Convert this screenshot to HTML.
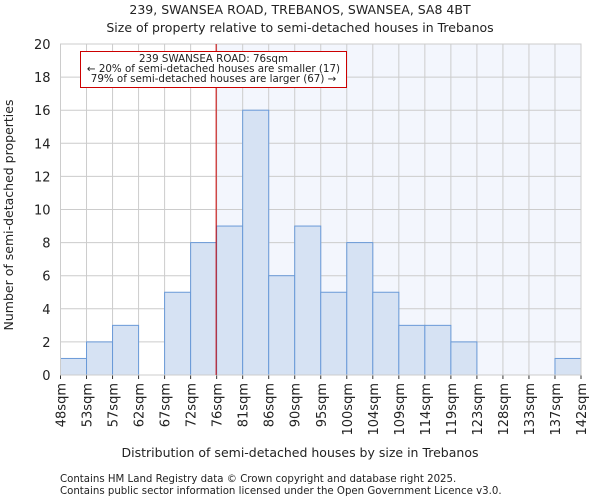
<!DOCTYPE html>
<html><head><meta charset="utf-8"><style>
body{margin:0;background:#fff;font-family:"DejaVu Sans","Liberation Sans",sans-serif;}
svg text{font-family:"DejaVu Sans","Liberation Sans",sans-serif;fill:#222;}
</style></head><body>
<svg id="c" width="600" height="500">
<text x="300" y="14" font-size="12.5" text-anchor="middle">239, SWANSEA ROAD, TREBANOS, SWANSEA, SA8 4BT</text>
<text x="300" y="32" font-size="12.5" text-anchor="middle">Size of property relative to semi-detached houses in Trebanos</text>
<g id="plot"></g>
<text x="300" y="457" font-size="12.5" text-anchor="middle">Distribution of semi-detached houses by size in Trebanos</text>
<text transform="translate(13,215) rotate(-90)" font-size="12.5" text-anchor="middle">Number of semi-detached properties</text>
<text x="60" y="482" font-size="10.2" fill="#444">Contains HM Land Registry data © Crown copyright and database right 2025.</text>
<text x="60" y="494" font-size="10.2" fill="#444">Contains public sector information licensed under the Open Government Licence v3.0.</text>
</svg>
<script>
const categories=["48sqm","53sqm","57sqm","62sqm","67sqm","72sqm","76sqm","81sqm","86sqm","90sqm","95sqm","100sqm","104sqm","109sqm","114sqm","119sqm","123sqm","128sqm","133sqm","137sqm","142sqm"];
const counts=[1,2,3,0,5,8,9,16,6,9,5,8,5,3,3,2,0,0,0,1];
const yTicks=[0,2,4,6,8,10,12,14,16,18,20];
const markerIndex=6;
const ns="http://www.w3.org/2000/svg";
const g=document.getElementById('plot');
const L=60.5,R=581,T=44,B=375,yMax=20;
const bw=(R-L)/counts.length;
const x=i=>L+i*bw;
const y=v=>B-(v/yMax)*(B-T);
function mk(t,a){const e=document.createElementNS(ns,t);for(const k in a)e.setAttribute(k,a[k]);g.appendChild(e);return e;}
let e;
e=mk('rect',{x:x(markerIndex),y:T,width:R-x(markerIndex),height:B-T,fill:'#f3f6fd'});


yTicks.forEach(v=>{
 e=mk('line',{x1:L,x2:R,y1:y(v),y2:y(v),stroke:'#ccc','stroke-width':1});
 
 
 e=mk('text',{x:L-10,y:y(v)+5,'font-size':13,'text-anchor':'end'});e.textContent=v;
 
 
});
categories.forEach((c,i)=>{
 e=mk('line',{x1:x(i),x2:x(i),y1:T,y2:B,stroke:'#ccc','stroke-width':1});
 
 
 e=mk('line',{x1:x(i),x2:x(i),y1:B,y2:B+4,stroke:'#333'});
 
 
 e=mk('text',{transform:`translate(${x(i)+5},${B+8}) rotate(-90)`,'font-size':13,'text-anchor':'end'});e.textContent=c;
 
 
});
counts.forEach((v,i)=>{
 if(v<=0)return;
 e=mk('rect',{x:x(i),y:y(v),width:bw,height:B-y(v),fill:'#d6e2f3',stroke:'#6a9ad8','stroke-width':1});
 
 
});
e=mk('rect',{x:L,y:T,width:R-L,height:B-T,fill:'none',stroke:'#ccc'});


e=mk('line',{x1:x(markerIndex)-0.5,x2:x(markerIndex)-0.5,y1:T,y2:B,stroke:'#c00','stroke-width':1});


e=mk('rect',{x:80.5,y:51.5,width:266,height:36,fill:'#fff',stroke:'#c00'});


[["239 SWANSEA ROAD: 76sqm",62],["← 20% of semi-detached houses are smaller (17)",72],["79% of semi-detached houses are larger (67) →",82]].forEach(([t,yy])=>{
 e=mk('text',{x:213.5,y:yy,'font-size':10.3,'text-anchor':'middle'});e.textContent=t;
 
 
});
</script>
</body></html>
